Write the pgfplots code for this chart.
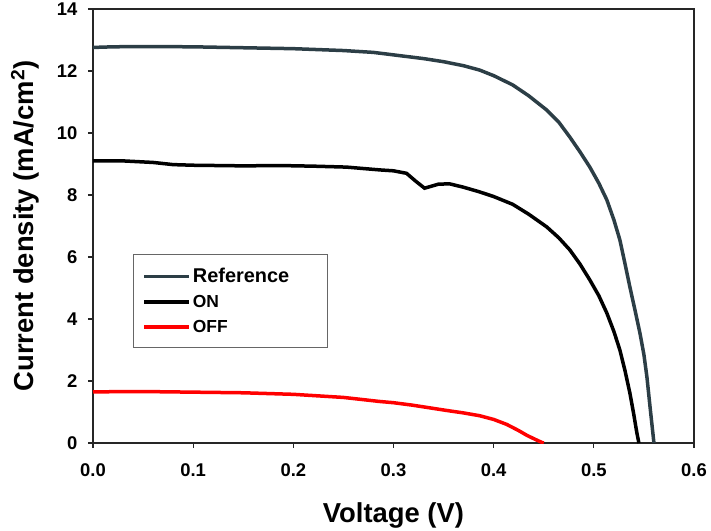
\documentclass[border=0pt]{standalone}
\usepackage{pgfplots}
\pgfplotsset{compat=1.18}
\usepackage{fontspec}
\setmainfont{Liberation Sans}
\definecolor{refcol}{RGB}{44,62,70}
\begin{document}
\begin{tikzpicture}
\path[use as bounding box] (-93bp,-88bp) rectangle (618bp,443bp);
\begin{axis}[
  scale only axis,
  width=601bp, height=434bp,
  xmin=0, xmax=0.6, ymin=0, ymax=14,
  xtick={0,0.1,...,0.6}, ytick={0,2,...,14},
  tick pos=left, tick align=outside,
  major tick length=5bp,
  axis line style={line width=1.2bp, black!85},
  every tick/.style={line width=1.2bp, black!85},
  /pgf/number format/assume math mode=true,
  xticklabel style={/pgf/number format/fixed, /pgf/number format/fixed zerofill, /pgf/number format/precision=1, yshift=-12bp},
  yticklabel style={xshift=-7bp},
  ticklabel style={font=\bfseries\fontsize{18.5}{18.5}\selectfont},
  xlabel={Voltage (V)},
  ylabel={Current density (mA/cm\textsuperscript{2})},
  label style={font=\bfseries\fontsize{27.5}{27.5}\selectfont},
  xlabel style={at={(axis description cs:0.5,-0.1659)}, anchor=center},
  ylabel style={at={(axis description cs:-0.1131,0.5)}, anchor=center},
  legend cell align=left,
  legend style={at={(0.0666,0.4355)}, anchor=north west, draw=black!60, line width=0.8bp,
    inner xsep=9bp, inner ysep=12bp, row sep=7bp,
    font=\bfseries\fontsize{17.5}{17.5}\selectfont,
    /tikz/every even column/.append style={column sep=10bp}},
  legend image code/.code={\draw[#1, line width=3.5bp] (0bp,0bp) -- (45bp,0bp);},
]
\addplot[refcol, line width=3.5bp] coordinates {
(0,12.76)(0.02,12.78)(0.05,12.79)(0.1,12.78)(0.15,12.75)(0.2,12.72)(0.25,12.66)(0.28,12.6)(0.3,12.52)(0.33,12.4)(0.35,12.3)(0.37,12.17)(0.386,12.03)(0.40,11.85)(0.419,11.55)(0.435,11.2)(0.453,10.74)(0.465,10.35)(0.476,9.87)(0.486,9.4)(0.496,8.9)(0.505,8.38)(0.513,7.84)(0.52,7.2)(0.526,6.55)(0.531,5.8)(0.536,5.03)(0.541,4.3)(0.546,3.55)(0.55,2.85)(0.553,2.13)(0.556,1.2)(0.559,0.3)(0.56,0)
};
\addlegendentry{\makebox[123bp][l]{\fontsize{20}{20}\selectfont Reference}}
\addplot[black, line width=3.5bp] coordinates {
(0,9.1)(0.03,9.1)(0.06,9.05)(0.08,8.98)(0.1,8.96)(0.15,8.94)(0.187,8.95)(0.22,8.93)(0.253,8.9)(0.286,8.81)(0.3,8.78)(0.313,8.7)(0.322,8.45)(0.331,8.22)(0.345,8.35)(0.356,8.36)(0.37,8.25)(0.386,8.1)(0.40,7.95)(0.419,7.7)(0.435,7.38)(0.453,6.97)(0.465,6.62)(0.476,6.23)(0.486,5.78)(0.496,5.26)(0.505,4.75)(0.513,4.19)(0.52,3.6)(0.526,3.0)(0.531,2.35)(0.536,1.61)(0.54,0.9)(0.543,0.32)(0.545,0)
};
\addlegendentry{ON}
\addplot[red, line width=3.5bp] coordinates {
(0,1.65)(0.05,1.66)(0.1,1.64)(0.15,1.62)(0.2,1.57)(0.25,1.47)(0.286,1.34)(0.3,1.3)(0.319,1.22)(0.335,1.14)(0.353,1.05)(0.37,0.97)(0.386,0.88)(0.40,0.76)(0.413,0.6)(0.425,0.4)(0.433,0.25)(0.44,0.14)(0.448,0.02)(0.45,0)
};
\addlegendentry{OFF}
\end{axis}
\end{tikzpicture}
\end{document}
